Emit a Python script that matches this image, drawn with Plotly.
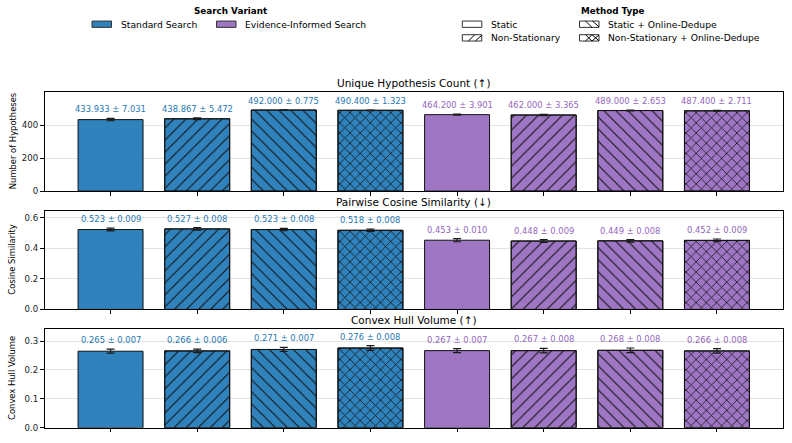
import plotly.graph_objects as go

methods = ["Standard Static", "Standard Non-Stationary", "Standard Static + Online-Dedupe",
           "Standard Non-Stationary + Online-Dedupe", "Evidence Static", "Evidence Non-Stationary",
           "Evidence Static + Online-Dedupe", "Evidence Non-Stationary + Online-Dedupe"]
variant = ["Standard Search"] * 4 + ["Evidence-Informed Search"] * 4
method_type = ["Static", "Non-Stationary", "Static + Online-Dedupe", "Non-Stationary + Online-Dedupe"] * 2

unique_mean = [433.933, 438.867, 492.000, 490.400, 464.200, 462.000, 489.000, 487.400]
unique_std = [7.031, 5.472, 0.775, 1.323, 3.901, 3.365, 2.653, 2.711]
cos_mean = [0.523, 0.527, 0.523, 0.518, 0.453, 0.448, 0.449, 0.452]
cos_std = [0.009, 0.008, 0.008, 0.008, 0.010, 0.009, 0.008, 0.009]
hull_mean = [0.265, 0.266, 0.271, 0.276, 0.267, 0.267, 0.268, 0.266]
hull_std = [0.007, 0.006, 0.007, 0.008, 0.007, 0.008, 0.008, 0.008]

panel_titles = ["Unique Hypothesis Count (↑)", "Pairwise Cosine Similarity (↓)", "Convex Hull Volume (↑)"]
y_titles = ["Number of Hypotheses", "Cosine Similarity", "Convex Hull Volume"]
y_ticks = [[0, 200, 400], [0.0, 0.2, 0.4, 0.6], [0.0, 0.1, 0.2, 0.3]]
y_ticktext = [["0", "200", "400"], ["0.0", "0.2", "0.4", "0.6"], ["0.0", "0.1", "0.2", "0.3"]]
y_ranges = [[0, 600], [0, 0.645], [0, 0.342]]

W, H = 792, 443
FONT = "DejaVu Sans"
variant_fill = {"Standard Search": "#2f82bc", "Evidence-Informed Search": "#9e76c4"}
variant_text = {"Standard Search": "#1f77b4", "Evidence-Informed Search": "#9467bd"}
hatch = {"Static": "", "Non-Stationary": "/", "Static + Online-Dedupe": "\\", "Non-Stationary + Online-Dedupe": "x"}
hatch_size = {"/": 8.5, "\\": 8.5, "x": 7.2}
hatch_solidity = {"/": 0.13, "\\": 0.13, "x": 0.2}

def px(x):
    return x / W

def py(y):
    return 1 - y / H

x_dom = [px(44.5), px(783)]
y_doms = [[py(193.3), py(93.3)], [py(313), py(213.3)], [py(432.7), py(332.7)]]

fig = go.Figure()
annotations = []
shapes = []
xs = list(range(len(methods)))
panels = [(unique_mean, unique_std), (cos_mean, cos_std), (hull_mean, hull_std)]

for i, (means, stds) in enumerate(panels):
    ax = "" if i == 0 else str(i + 1)
    fills = [variant_fill[v] for v in variant]
    # solid fill layer
    fig.add_trace(go.Bar(
        x=xs, y=means, width=0.75,
        marker=dict(color=fills, line=dict(color="#111", width=1)),
        xaxis="x" + ax, yaxis="y" + ax, showlegend=False, hoverinfo="skip"))
    # hatch layer (only hatched bars)
    hx = [j for j in xs if hatch[method_type[j]]]
    shp = [hatch[method_type[j]] for j in hx]
    fig.add_trace(go.Bar(
        x=hx, y=[means[j] for j in hx], width=0.75,
        marker=dict(color="#111", line=dict(color="#111", width=1),
                    pattern=dict(shape=shp, fillmode="replace", bgcolor="rgba(0,0,0,0)",
                                 size=[hatch_size[s] for s in shp],
                                 solidity=[hatch_solidity[s] for s in shp])),
        xaxis="x" + ax, yaxis="y" + ax, showlegend=False, hoverinfo="skip"))
    # error bars on top
    fig.add_trace(go.Scatter(
        x=xs, y=means, mode="markers", marker=dict(size=1, color="rgba(0,0,0,0)"),
        error_y=dict(type="data", array=stds, visible=True, color="#1a1a1a", thickness=1.2, width=4),
        xaxis="x" + ax, yaxis="y" + ax, showlegend=False, hoverinfo="skip"))
    for j, (m, s) in enumerate(zip(means, stds)):
        fmt = "{:.3f} ± {:.3f}".format(m, s)
        annotations.append(dict(x=j, y=m + s, xref="x" + ax, yref="y" + ax, text=fmt, showarrow=False,
                                xanchor="center", yanchor="bottom", yshift=2,
                                font=dict(family=FONT, size=8.4, color=variant_text[variant[j]])))
    fig.layout["xaxis" + ax] = dict(domain=x_dom, range=[-0.7625, 7.7625], tickvals=xs, showticklabels=False,
                                   ticks="outside", ticklen=3.5, tickwidth=1, tickcolor="black",
                                   showline=True, linecolor="black", linewidth=1, mirror=True,
                                   showgrid=False, zeroline=False, anchor="y" + ax)
    fig.layout["yaxis" + ax] = dict(domain=y_doms[i], range=y_ranges[i], tickvals=y_ticks[i],
                                   ticktext=y_ticktext[i], ticks="outside", ticklen=3.5, tickwidth=1,
                                   tickcolor="black", tickfont=dict(family=FONT, size=8.6, color="#222"),
                                   showline=True, linecolor="black", linewidth=1, mirror=True,
                                   showgrid=True, gridcolor="#e3e3e3", gridwidth=1, zeroline=False,
                                   anchor="x" + ax)
    top_px = [93.3, 213.3, 332.7][i]
    annotations.append(dict(x=px(413.7), y=py(top_px - 1), xref="paper", yref="paper", text=panel_titles[i],
                            showarrow=False, xanchor="center", yanchor="bottom",
                            font=dict(family=FONT, size=10.5, color="black")))
    mid = (y_doms[i][0] + y_doms[i][1]) / 2
    annotations.append(dict(x=px(12.5), y=mid, xref="paper", yref="paper", text=y_titles[i], textangle=-90,
                            showarrow=False, xanchor="center", yanchor="middle",
                            font=dict(family=FONT, size=8.4, color="black")))

# legends (drawn)
def swatch(x0, yc, fill, pat):
    x1 = x0 + 19.5
    y0, y1 = yc - 3.2, yc + 3.2
    shapes.append(dict(type="rect", xref="paper", yref="paper", x0=px(x0), x1=px(x1), y0=py(y1), y1=py(y0),
                       fillcolor=fill, line=dict(color="#333", width=1)))
    segs = []
    if pat in ("/", "x"):
        segs.append((x0 + 6, y1, x0 + 12.5, y0))
    if pat in ("\\", "x"):
        segs.append((x0 + 6, y0, x0 + 12.5, y1))
    if pat == "x":
        segs.append((x0 + 12.5, y0, x0 + 19.5, y1 - 0.2))
        segs.append((x0 + 12.5, y1, x0 + 19.5, y0 + 0.2))
    if pat == "/":
        segs.append((x0 + 13, y1, x0 + 19.5, y0 + 0.5))
    if pat == "\\":
        segs.append((x0 + 13, y0, x0 + 19.5, y1 - 0.5))
    for (a, b, c, d) in segs:
        shapes.append(dict(type="line", xref="paper", yref="paper", x0=px(a), y0=py(b), x1=px(c), y1=py(d),
                           line=dict(color="black", width=1)))

def legend_text(x, y, text, bold=False, anchor="left"):
    annotations.append(dict(x=px(x), y=py(y), xref="paper", yref="paper",
                            text="<b>" + text + "</b>" if bold else text, showarrow=False,
                            xanchor=anchor, yanchor="middle",
                            font=dict(family=FONT, size=8.8 if bold else 9.2, color="black")))

legend_text(230.7, 10.7, "Search Variant", bold=True, anchor="center")
swatch(92, 24.5, variant_fill["Standard Search"], "")
legend_text(118.5, 24.5, "Standard Search")
swatch(216.5, 24.5, variant_fill["Evidence-Informed Search"], "")
legend_text(243, 24.5, "Evidence-Informed Search")

legend_text(613, 10.7, "Method Type", bold=True, anchor="center")
mt_pos = {"Static": (462.3, 24.5), "Non-Stationary": (462.3, 38.3),
          "Static + Online-Dedupe": (579.5, 24.5), "Non-Stationary + Online-Dedupe": (579.5, 38.3)}
for name, (lx, ly) in mt_pos.items():
    swatch(lx, ly, "white", hatch[name])
    legend_text(lx + 26.5, ly, name)

fig.update_layout(width=W, height=H, margin=dict(l=0, r=0, t=0, b=0), paper_bgcolor="white",
                  plot_bgcolor="white", annotations=annotations, shapes=shapes, barmode="overlay",
                  font=dict(family=FONT))
fig.write_html("out.html")
